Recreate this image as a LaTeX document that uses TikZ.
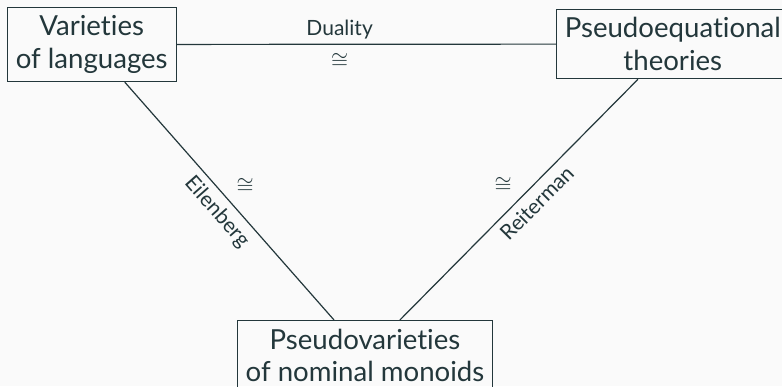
\documentclass[tikz,border=0pt]{standalone}
\usepackage{amsmath,amssymb}
\usepackage{fontspec}
\setmainfont{Lato}[Ligatures=NoCommon]
\usepackage{tikz}
\definecolor{mDarkTeal}{HTML}{23373B}
\definecolor{mBg}{HTML}{FAFAFA}

\begin{document}
\begin{tikzpicture}[x=0.5pt, y=-0.5pt, %
      box/.style={draw=mDarkTeal, text=mDarkTeal, align=center, inner sep=4.2pt, font=\fontsize{13.8}{16.2}\selectfont}, %
      lab/.style={text=mDarkTeal, font=\fontsize{10.5}{12}\selectfont}, %
      link/.style={draw=mDarkTeal, semithick}, %
      ]
    \fill[mBg] (0,0) rectangle (782,386);
    \useasboundingbox (0,0) rectangle (782,386);

    \foreach \a/\txt/\anc/\x/\y in { %
      vol/{Varieties\\of languages}/west/7/44.5,%
      pet/{Pseudoequational\\theories}/west/556/44,%
      pvm/{Pseudovarieties\\of nominal monoids}/north/365/320%
    }{ %
      \node[box, anchor=\anc] (\a) at (\x,\y) {\txt};
    }

    \draw[link] (vol) -- node[lab, pos=0.43, above, yshift=-1pt] {Duality} node[lab, pos=0.43, below, yshift=-1pt] {$\cong$} (pet);
    \draw[link] (vol) -- node[lab, sloped, below] {Eilenberg} node[lab, above right] {$\cong$} (pvm);
    \draw[link] (pet) -- node[lab, pos=0.47, sloped, below] {Reiterman} node[lab, above left] {$\cong$} (pvm);
\end{tikzpicture}
\end{document}
